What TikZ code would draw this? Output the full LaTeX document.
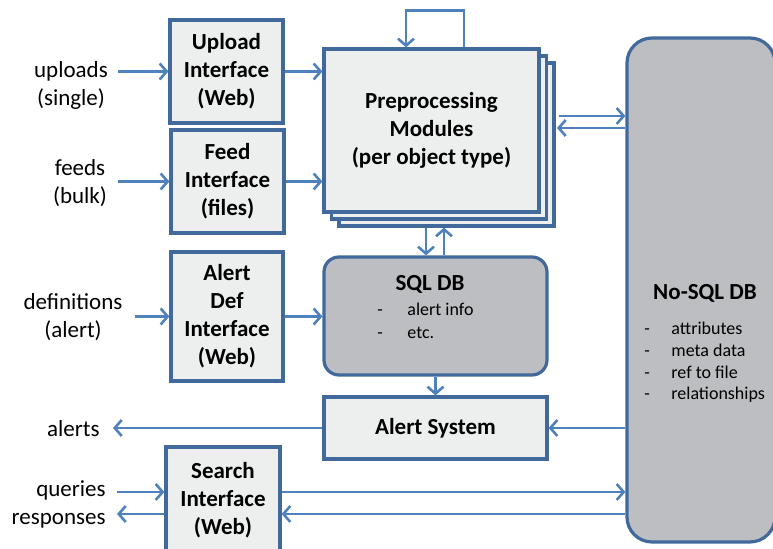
\documentclass[tikz,border=0pt]{standalone}
\usepackage{fontspec}
\setmainfont{Carlito}
\usetikzlibrary{arrows.meta,positioning}

\definecolor{linkblue}{RGB}{79,129,189}
\definecolor{boxblue}{RGB}{65,105,155}
\definecolor{boxgray}{RGB}{237,239,239}
\definecolor{dbgray}{RGB}{189,190,193}

\tikzset{
  block/.style={draw=boxblue, line width=1.6pt, fill=boxgray, align=center,
    font=\fontsize{11.5}{14}\selectfont\bfseries, inner sep=0pt},
  dbbox/.style={draw=boxblue, line width=1.6pt, fill=dbgray, rounded corners=7.5pt, inner sep=0pt},
  dbtitle/.style={font=\fontsize{11.5}{14}\selectfont\bfseries, inner sep=0pt},
  item/.style={anchor=base west, font=\fontsize{9}{11}\selectfont, inner sep=0pt},
  lbl/.style={align=center, font=\fontsize{11.5}{14}\selectfont, inner sep=0pt},
  link/.style={draw=linkblue, line width=1.3pt, -{Straight Barb[length=3.5pt,width=8pt]}},
}

\begin{document}
\begin{tikzpicture}[x=0.5pt,y=-0.5pt]
  \useasboundingbox (0,0) rectangle (773,549);

  % Interfaces
  \node[block, minimum width=56.5pt, minimum height=51.5pt] (upload) at (226.5,71.5) {Upload\\Interface\\(Web)};
  \node[block, minimum width=56.5pt, minimum height=51.5pt] (feed) at (227.5,181.5) {Feed\\Interface\\(files)};
  \node[block, minimum width=56pt, minimum height=64.5pt] (alertdef) at (227,316.5) {Alert\\Def\\Interface\\(Web)};
  \node[block, minimum width=57pt, minimum height=53pt] (search) at (223,500) {Search\\Interface\\(Web)};

  % Preprocessing stack
  \node[block, minimum width=107.5pt, minimum height=81.5pt] (pre3) at (446.5,144.5) {};
  \node[block, minimum width=107.5pt, minimum height=81.5pt] (pre2) at (439,137.5) {};
  \node[block, minimum width=107.5pt, minimum height=81.5pt] (pre) at (431.5,130.5) {Preprocessing\\Modules\\(per object type)};

  % SQL DB
  \node[dbbox, minimum width=111.5pt, minimum height=59pt] (sql) at (435.5,316) {};
  \node[dbtitle] (sqltitle) at (430,284) {SQL DB};
  \node[item] (sql1) at (377,316) {\makebox[15pt][l]{-}alert info};
  \node[item] (sql2) at (377,339) {\makebox[15pt][l]{-}etc.};

  % Alert system
  \node[block, minimum width=111.5pt, minimum height=31pt] (alertsys) at (435.5,428) {Alert System};

  % No-SQL DB
  \node[dbbox, rounded corners=12.5pt, minimum width=74pt, minimum height=252pt] (nosql) at (701,290) {};
  \node[dbtitle] (nosqltitle) at (705,293) {No-SQL DB};
  \foreach \txt [count=\i] in {attributes,meta data,ref to file,relationships}
    \node[item] (nosql\i) at (644,313+21.7*\i) {\makebox[13.5pt][l]{-}\txt};

  % outside labels
  \node[lbl] (uploads) at (71,85) {uploads\\(single)};
  \node[lbl] (feeds) at (80,183) {feeds\\(bulk)};
  \node[lbl] (defs) at (73,317.5) {definitions\\(alert)};
  \node[lbl, anchor=east] (alerts) at (100,429) {alerts};
  \node[lbl, align=right, anchor=east] (qr) at (106,504.5) {queries\\responses};

  % free ends
  \coordinate (in1) at (118,71.5);
  \coordinate (in2) at (118,181.5);
  \coordinate (in3) at (135,316.5);
  \coordinate (out1) at (113,428);
  \coordinate (qin) at (117,492);
  \coordinate (rout) at (117,514);
  \coordinate (p2n) at (559,116);
  \coordinate (n2p) at (557,128);
  \coordinate (dn) at ([xshift=-4.75pt]sql.north);
  \coordinate (up) at ([xshift=4.25pt]sql.north);

  % inputs
  \draw[link] (in1) -- (upload.west);
  \draw[link] (in2) -- (feed.west);
  \draw[link] (in3) -- (alertdef.west);
  \draw[link] (alertsys.west) -- (out1);
  \draw[link] (qin) -- (qin -| search.west);
  \draw[link] (rout -| search.west) -- (rout);

  % into processing
  \draw[link] (upload.east) -- (upload.east -| pre.west);
  \draw[link] (feed.east) -- (feed.east -| pre.west);
  \draw[link] (alertdef.east) -- (alertdef.east -| sql.west);
  \draw[link] ([xshift=16.25pt]pre.north) -- ++(0,-37) -| ([xshift=-12.75pt]pre.north);
  \draw[link] (dn |- pre3.south) -- (dn);
  \draw[link] (up) -- (up |- pre3.south);
  \draw[link] (sql.south) -- (alertsys.north);

  % No-SQL links
  \draw[link] (p2n) -- (p2n -| nosql.west);
  \draw[link] (n2p -| nosql.west) -- (n2p);
  \draw[link] (alertsys.east -| nosql.west) -- (alertsys.east);
  \draw[link] (qin -| search.east) -- (qin -| nosql.west);
  \draw[link] (rout -| nosql.west) -- (rout -| search.east);
\end{tikzpicture}
\end{document}
